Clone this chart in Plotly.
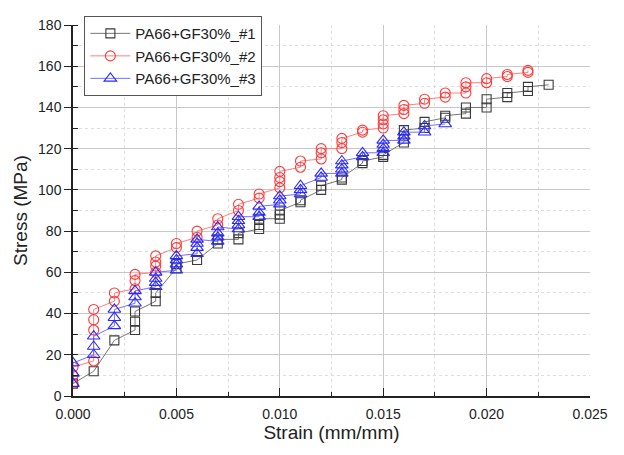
import plotly.graph_objects as go

# ---- data (strain in mm/mm, stress in MPa) ----
strain_1 = [0.000, 0.001, 0.002, 0.003, 0.003, 0.003, 0.004, 0.004, 0.005, 0.005,
            0.006, 0.007, 0.007, 0.008, 0.008, 0.009, 0.009, 0.009, 0.010, 0.010, 0.010,
            0.011, 0.011, 0.012, 0.012, 0.013, 0.013, 0.014, 0.014, 0.015, 0.015,
            0.016, 0.016, 0.016, 0.017, 0.017, 0.018, 0.018, 0.019, 0.019,
            0.020, 0.020, 0.021, 0.021, 0.022, 0.022, 0.023]
stress_1 = [6, 12, 27, 32, 36, 41, 46, 50, 62, 64,
            66, 74, 76, 76, 79, 81, 83, 86, 86, 88, 90,
            94, 95, 100, 102, 105, 106, 113, 114, 116, 117,
            123, 126, 129, 130, 133, 135, 136, 137, 140,
            140, 144, 145, 147, 148, 150, 151]

strain_2 = [0.000, 0.000, 0.000, 0.001, 0.001, 0.001, 0.001, 0.002, 0.002,
            0.003, 0.003, 0.003, 0.004, 0.004, 0.004, 0.004, 0.005, 0.005,
            0.006, 0.006, 0.007, 0.007, 0.008, 0.008, 0.009, 0.009,
            0.010, 0.010, 0.010, 0.010, 0.011, 0.011, 0.012, 0.012, 0.012,
            0.013, 0.013, 0.013, 0.014, 0.014, 0.015, 0.015, 0.015, 0.015,
            0.016, 0.016, 0.016, 0.017, 0.017, 0.018, 0.018,
            0.019, 0.019, 0.019, 0.020, 0.020, 0.021, 0.021, 0.022, 0.022]
stress_2 = [6, 10, 14, 17, 32, 37, 42, 46, 50,
            52, 56, 59, 60, 63, 65, 68, 72, 74,
            77, 80, 83, 86, 90, 93, 96, 98,
            101, 104, 106, 109, 111, 114, 115, 118, 120,
            120, 123, 125, 128, 129, 130, 132, 134, 136,
            137, 139, 141, 142, 144, 145, 147,
            147, 150, 152, 152, 154, 155, 156, 157, 158]

strain_3 = [0.000, 0.000, 0.000, 0.001, 0.001, 0.001, 0.002, 0.002, 0.002,
            0.003, 0.003, 0.003, 0.004, 0.004, 0.004, 0.004,
            0.005, 0.005, 0.005, 0.005, 0.006, 0.006, 0.006, 0.006,
            0.007, 0.007, 0.007, 0.007, 0.008, 0.008, 0.008, 0.008,
            0.009, 0.009, 0.009, 0.010, 0.010, 0.010, 0.011, 0.011, 0.011,
            0.012, 0.012, 0.013, 0.013, 0.013, 0.013, 0.014, 0.014,
            0.015, 0.015, 0.015, 0.015, 0.016, 0.016, 0.016, 0.017, 0.017, 0.018]
stress_3 = [6, 11, 16, 20, 24, 29, 34, 38, 42,
            45, 48, 51, 53, 55, 57, 60,
            61, 64, 66, 68, 69, 72, 74, 76,
            75, 77, 79, 82, 81, 83, 85, 87,
            87, 89, 92, 93, 95, 97, 98, 100, 102,
            106, 108, 108, 110, 112, 114, 116, 118,
            118, 120, 122, 124, 124, 126, 128, 128, 131, 132]

names = ["PA66+GF30%_#1", "PA66+GF30%_#2", "PA66+GF30%_#3"]
x_ticks = [0.000, 0.005, 0.010, 0.015, 0.020, 0.025]
x_ticklabels = ["0.000", "0.005", "0.010", "0.015", "0.020", "0.025"]
x_minor = [0.0025, 0.0075, 0.0125, 0.0175, 0.0225]
y_ticks = [0, 20, 40, 60, 80, 100, 120, 140, 160, 180]

FONT = "Liberation Sans, Arial, sans-serif"

series = [
    (strain_1, stress_1, names[0], "#3a3a3a", "#777777", "square-open", 9),
    (strain_2, stress_2, names[1], "#ff3a3a", "#ff8080", "circle-open", 10),
    (strain_3, stress_3, names[2], "#2a2aff", "#7070ff", "triangle-up-open", 11),
]

fig = go.Figure()
for xs, ys, nm, mc, lc, sym, sz in series:
    fig.add_trace(go.Scatter(
        x=xs, y=ys, name=nm, mode="lines+markers",
        line=dict(color=lc, width=1),
        marker=dict(symbol=sym, size=sz, color=mc, line=dict(width=1.1, color=mc)),
    ))

grid_major = "#c8c8c8"
grid_minor = "#dddddd"

fig.update_layout(
    width=616, height=447,
    margin=dict(l=65, r=34, t=8, b=59),
    paper_bgcolor="white", plot_bgcolor="white",
    font=dict(family=FONT, size=14, color="#222222"),
    showlegend=True,
    legend=dict(
        x=0.022, y=1.024, xanchor="left", yanchor="top",
        bgcolor="white", bordercolor="#555555", borderwidth=1,
        font=dict(family=FONT, size=15, color="#222222"),
        tracegroupgap=0, itemwidth=40,
    ),
    xaxis=dict(
        range=[0, 0.025], tickvals=x_ticks, ticktext=x_ticklabels,
        showline=True, linecolor="#222222", linewidth=1.5,
        ticks="inside", ticklen=8, tickwidth=1.2, tickcolor="#222222",
        ticklabelstandoff=4,
        showgrid=True, gridcolor=grid_major, gridwidth=1,
        zeroline=False,
        minor=dict(tickvals=x_minor, ticks="inside", ticklen=4,
                   tickcolor="#222222", showgrid=True, gridcolor=grid_minor, griddash="dot"),
        title=dict(text="Strain (mm/mm)", font=dict(family=FONT, size=19), standoff=5),
        tickfont=dict(family=FONT, size=14),
    ),
    yaxis=dict(
        range=[0, 180], tickvals=y_ticks,
        showline=True, linecolor="#222222", linewidth=1.5,
        ticks="outside", ticklen=7, tickwidth=1.2, tickcolor="#222222",
        showgrid=True, gridcolor=grid_major, gridwidth=1,
        zeroline=False,
        minor=dict(dtick=10, ticks="inside", ticklen=5,
                   tickcolor="#222222", showgrid=True, gridcolor=grid_minor, griddash="dot"),
        title=dict(text="Stress (MPa)", font=dict(family=FONT, size=19), standoff=5),
        tickfont=dict(family=FONT, size=14),
    ),
)

fig.write_html("out.html")
